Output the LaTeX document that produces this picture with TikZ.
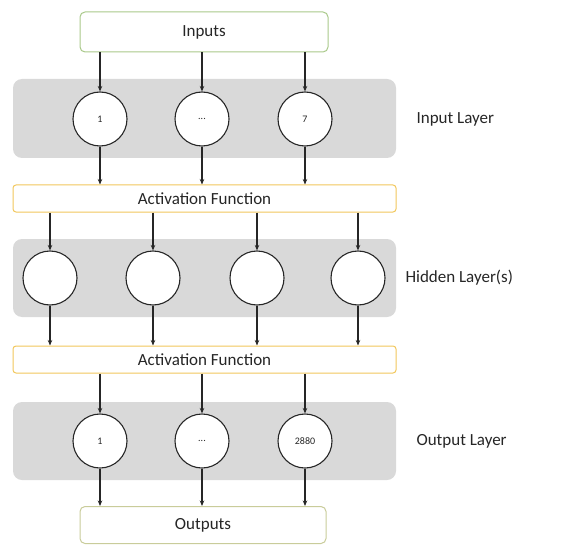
\documentclass[tikz,border=0pt]{standalone}
\usepackage{fontspec}
\setmainfont{Carlito}
\usetikzlibrary{arrows.meta}
\definecolor{grayband}{HTML}{D9D9D9}
\definecolor{greenedge}{HTML}{A9C98A}
\definecolor{goldedge}{HTML}{F2C75C}
\definecolor{olivedge}{HTML}{C9CC9A}
\definecolor{txt}{HTML}{262626}
\begin{document}
\begin{tikzpicture}[x=1pt,y=-1pt,
  band/.style={fill=grayband,draw=none,rounded corners=9pt},
  iobox/.style={draw=greenedge,line width=1pt,fill=white,rounded corners=5pt,text=txt,font=\fontsize{17}{19}\selectfont},
  actbox/.style={draw=goldedge,line width=1pt,fill=white,rounded corners=3pt,text=txt,font=\fontsize{17}{19}\selectfont},
  neuron/.style={circle,draw=black!85,line width=1.1pt,fill=white,minimum size=54pt,inner sep=0pt,text=txt,font=\fontsize{10}{12}\selectfont},
  lbl/.style={anchor=west,text=txt,font=\fontsize{17}{19}\selectfont},
  conn/.style={-{Stealth[length=5.5pt,width=4.5pt]},line width=1.4pt,black!85}]
\useasboundingbox (0,0) rectangle (561,545);
% bands
\node[band,minimum width=383pt,minimum height=79pt,inner sep=0pt] (bandin) at (204.5,118.5) {};
\node[band,minimum width=383pt,minimum height=78pt,inner sep=0pt] (bandhid) at (204.5,278) {};
\node[band,minimum width=383pt,minimum height=78pt,inner sep=0pt] (bandout) at (204.5,441) {};
% boxes
\node[iobox,minimum width=248pt,minimum height=40pt,inner sep=0pt] (inputs) at (204,32) {Inputs};
\node[actbox,minimum width=383pt,minimum height=27pt,inner sep=0pt] (act1) at (204.5,198.5) {Activation Function};
\node[actbox,minimum width=383pt,minimum height=27pt,inner sep=0pt] (act2) at (204.5,359.5) {Activation Function};
\node[iobox,draw=olivedge,minimum width=246pt,minimum height=37pt,inner sep=0pt] (outputs) at (203,525) {Outputs};
% neurons
\node[neuron] (i1) at (100,119) {1};
\node[neuron] (i2) at (202,119) {...};
\node[neuron] (i3) at (305,119) {7};
\node[neuron] (h1) at (50,278) {};
\node[neuron] (h2) at (153,278) {};
\node[neuron] (h3) at (257,278) {};
\node[neuron] (h4) at (358,278) {};
\node[neuron] (o1) at (100,441) {1};
\node[neuron] (o2) at (202,441) {...};
\node[neuron] (o3) at (305,441) {2880};
% labels
\node[lbl] (lin) at (413,119) {Input Layer};
\node[lbl] (lhid) at (402,278) {Hidden Layer(s)};
\node[lbl] (lout) at (413,441) {Output Layer};
% connectors
\foreach \n in {i1,i2,i3}{
  \draw[conn] (inputs.south -| \n) -- (\n.north);
  \draw[conn] (\n.south) -- (act1.north -| \n);
}
\foreach \n in {h1,h2,h3,h4}{
  \draw[conn] (act1.south -| \n) -- (\n.north);
  \draw[conn] (\n.south) -- (act2.north -| \n);
}
\foreach \n in {o1,o2,o3}{
  \draw[conn] (act2.south -| \n) -- (\n.north);
  \draw[conn] (\n.south) -- (outputs.north -| \n);
}
\end{tikzpicture}
\end{document}
